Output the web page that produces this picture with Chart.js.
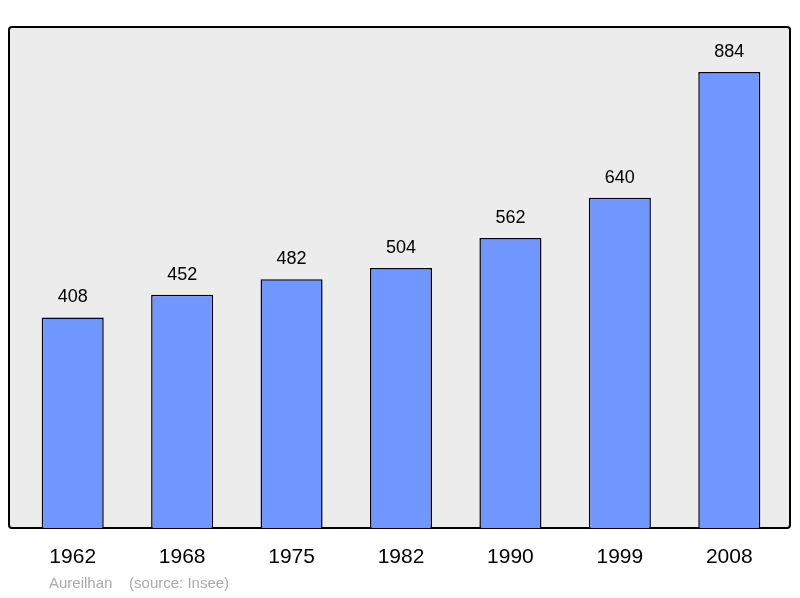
<!DOCTYPE html>
<html>
<head>
<meta charset="utf-8">
<script src="https://cdn.jsdelivr.net/npm/chart.js@4"></script>
<style>
  html, body { margin: 0; padding: 0; background: #fff; }
  #wrap { width: 800px; height: 598px; }
</style>
</head>
<body>
<div id="wrap"><canvas id="myChart" width="800" height="598"></canvas></div>
<script>
// years along the x-axis
var years = ["1962", "1968", "1975", "1982", "1990", "1999", "2008"];
// population
var population = [408, 452, 482, 504, 562, 640, 884];
var footer = "Aureilhan    (source: Insee)";

var ctx = document.getElementById("myChart");

// grey frame behind the bars
var framePlugin = {
    id: "frame",
    beforeDatasetsDraw: function (chart) {
        var a = chart.chartArea, c = chart.ctx;
        c.save();
        c.fillStyle = "#ececec";
        c.strokeStyle = "#000";
        c.lineWidth = 2;
        c.beginPath();
        c.roundRect(a.left - 9, a.top, a.right - a.left + 15, a.bottom - a.top, 3);
        c.fill();
        c.stroke();
        c.restore();
    },
    afterDatasetsDraw: function (chart) {
        var c = chart.ctx, meta = chart.getDatasetMeta(0);
        var a = chart.chartArea;
        c.save();
        c.fillStyle = "#000";
        c.textAlign = "center";
        c.font = "18px 'Liberation Sans', Arial, sans-serif";
        c.textBaseline = "alphabetic";
        meta.data.forEach(function (bar, i) {
            c.fillText(String(population[i]), bar.x, bar.y - 15);
        });
        c.font = "21px 'Liberation Sans', Arial, sans-serif";
        c.textBaseline = "middle";
        meta.data.forEach(function (bar, i) {
            c.fillText(years[i], bar.x, a.bottom + 29);
        });
        c.textAlign = "left";
        c.fillStyle = "#aaaaaa";
        c.font = "15px 'Liberation Sans', Arial, sans-serif";
        c.fillText(footer, 49, a.bottom + 56);
        c.restore();
    }
};

var myChart = new Chart(ctx, {
    type: "bar",
    data: {
        labels: years,
        datasets: [{
            data: population,
            backgroundColor: "#7096ff",
            borderColor: "#000",
            borderWidth: 1.5,
            barPercentage: 0.567,
            categoryPercentage: 1
        }]
    },
    options: {
        responsive: false,
        animation: false,
        layout: { padding: { left: 18, right: 16, top: 27, bottom: 70 } },
        plugins: { legend: { display: false }, tooltip: { enabled: false } },
        scales: {
            x: { display: false },
            y: { display: false, min: 0, max: 971 }
        }
    },
    plugins: [framePlugin]
});
</script>
</body>
</html>
